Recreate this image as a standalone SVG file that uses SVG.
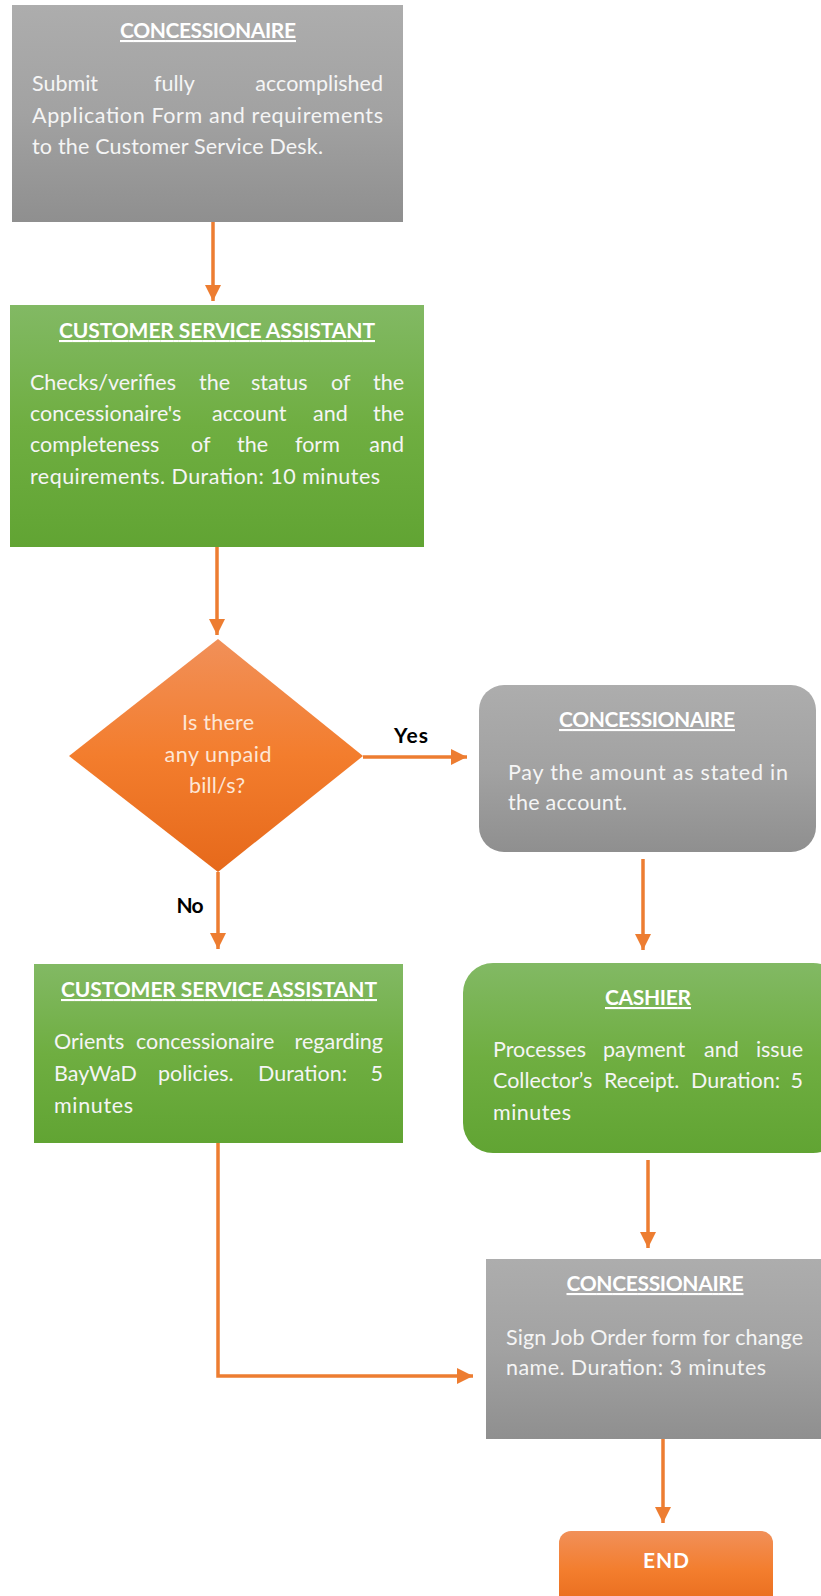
<svg xmlns="http://www.w3.org/2000/svg" width="821" height="1596" viewBox="0 0 821 1596">
<defs>
<linearGradient id="gGray" x1="0" y1="0" x2="0" y2="1"><stop offset="0" stop-color="#adadad"/><stop offset="0.5" stop-color="#a2a2a2"/><stop offset="1" stop-color="#8f8f8f"/></linearGradient>
<linearGradient id="gGreen" x1="0" y1="0" x2="0" y2="1"><stop offset="0" stop-color="#82b964"/><stop offset="0.5" stop-color="#6fae41"/><stop offset="1" stop-color="#61a433"/></linearGradient>
<linearGradient id="gOrange" x1="0" y1="0" x2="0" y2="1"><stop offset="0" stop-color="#f19059"/><stop offset="0.5" stop-color="#f37d2d"/><stop offset="1" stop-color="#e6691b"/></linearGradient>
<marker id="ah" markerUnits="userSpaceOnUse" markerWidth="16" markerHeight="16" refX="16" refY="8" orient="auto"><path d="M0,0 L16,8 L0,16 z" fill="#ed7d31"/></marker>
</defs>
<style>
.t{font-family:Lato,"Open Sans","Liberation Sans",sans-serif;font-size:21.5px;fill:#f5f5f5}
.e{text-anchor:end}
.h{font-family:Lato,"Open Sans","Liberation Sans",sans-serif;font-size:21px;font-weight:bold;fill:#ffffff;text-anchor:middle;text-decoration:underline}
.lbl{font-family:Lato,"Open Sans","Liberation Sans",sans-serif;font-size:21px;font-weight:bold;fill:#000000;text-anchor:middle}
.d{font-family:Lato,"Open Sans","Liberation Sans",sans-serif;font-size:21.5px;fill:#fde6d6;text-anchor:middle}
.c{fill:none;stroke:#ed7d31;stroke-width:3.5;marker-end:url(#ah)}
</style>

<g id="connectors">
<path class="c" d="M213,222 V301"/>
<path class="c" d="M217,547 V635"/>
<path class="c" d="M363,757 H467"/>
<path class="c" d="M218,872 V949"/>
<path class="c" d="M643,859 V950"/>
<path class="c" d="M648,1160 V1248"/>
<path class="c" d="M218,1143 V1376 H473"/>
<path class="c" d="M663,1439 V1523"/>
<text class="lbl" x="411" y="743" textLength="34">Yes</text>
<text class="lbl" x="190" y="913" textLength="27">No</text>
</g>

<g id="n1">
<rect x="12" y="5" width="391" height="217" fill="url(#gGray)"/>
<text class="h" x="208" y="38" textLength="176">CONCESSIONAIRE</text>
<text class="t" y="91"><tspan x="32">Submit</tspan><tspan x="154">fully</tspan></text>
<text class="t e" x="383" y="91">accomplished</text>
<text class="t" x="32" y="123" textLength="351">Application Form and requirements</text>
<text class="t" x="32" y="154" textLength="291">to the Customer Service Desk.</text>
</g>

<g id="n2">
<rect x="10" y="305" width="414" height="242" fill="url(#gGreen)"/>
<text class="h" x="217" y="338" textLength="316">CUSTOMER SERVICE ASSISTANT</text>
<text class="t" y="390"><tspan x="30">Checks/verifies</tspan><tspan x="199">the</tspan><tspan x="251">status</tspan><tspan x="331">of</tspan></text>
<text class="t e" x="404" y="390">the</text>
<text class="t" y="421"><tspan x="30">concessionaire's</tspan><tspan x="212">account</tspan><tspan x="313">and</tspan></text>
<text class="t e" x="404" y="421">the</text>
<text class="t" y="452"><tspan x="30">completeness</tspan><tspan x="191">of</tspan><tspan x="237">the</tspan><tspan x="295">form</tspan></text>
<text class="t e" x="404" y="452">and</text>
<text class="t" x="30" y="484" textLength="350">requirements. Duration: 10 minutes</text>
</g>

<g id="n3">
<polygon points="218,639 363,756 218,872 69,756" fill="url(#gOrange)"/>
<text class="d" x="218" y="730" textLength="72">Is there</text>
<text class="d" x="218" y="762" textLength="107">any unpaid</text>
<text class="d" x="217" y="793" textLength="56">bill/s?</text>
</g>

<g id="n4">
<rect x="479" y="685" width="337" height="167" rx="25" fill="url(#gGray)"/>
<text class="h" x="647" y="727" textLength="176">CONCESSIONAIRE</text>
<text class="t" x="508" y="780" textLength="280">Pay the amount as stated in</text>
<text class="t" x="508" y="810" textLength="119">the account.</text>
</g>

<g id="n5">
<rect x="34" y="964" width="369" height="179" fill="url(#gGreen)"/>
<text class="h" x="219" y="997" textLength="316">CUSTOMER SERVICE ASSISTANT</text>
<text class="t" y="1049"><tspan x="54">Orients</tspan><tspan x="136">concessionaire</tspan></text>
<text class="t e" x="383" y="1049">regarding</text>
<text class="t" y="1081"><tspan x="54">BayWaD</tspan><tspan x="158">policies.</tspan><tspan x="258">Duration:</tspan></text>
<text class="t e" x="383" y="1081">5</text>
<text class="t" x="54" y="1113" textLength="79">minutes</text>
</g>

<g id="n6">
<rect x="463" y="963" width="380" height="190" rx="30" fill="url(#gGreen)"/>
<text class="h" x="648" y="1005" textLength="86">CASHIER</text>
<text class="t" y="1057"><tspan x="493">Processes</tspan><tspan x="603">payment</tspan><tspan x="704">and</tspan></text>
<text class="t e" x="803" y="1057">issue</text>
<text class="t" y="1088"><tspan x="493">Collector’s</tspan><tspan x="604">Receipt.</tspan><tspan x="691">Duration:</tspan></text>
<text class="t e" x="803" y="1088">5</text>
<text class="t" x="493" y="1120" textLength="78">minutes</text>
</g>

<g id="n7">
<rect x="486" y="1259" width="340" height="180" fill="url(#gGray)"/>
<text class="h" x="655" y="1291" textLength="177">CONCESSIONAIRE</text>
<text class="t" x="506" y="1345" textLength="297">Sign Job Order form for change</text>
<text class="t" x="506" y="1375" textLength="260">name. Duration: 3 minutes</text>
</g>

<g id="n8">
<rect x="559" y="1531" width="214" height="80" rx="12" fill="url(#gOrange)"/>
<text class="h" x="666" y="1568" textLength="46" style="text-decoration:none">END</text>
</g>
</svg>
